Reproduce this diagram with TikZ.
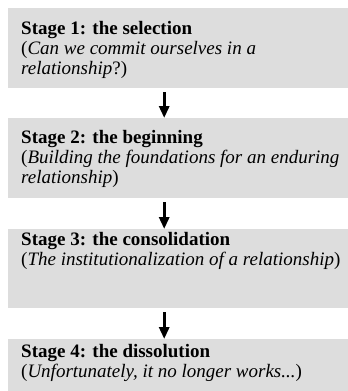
\documentclass[tikz,border=0pt]{standalone}
\usepackage{fontspec}
\setmainfont{Liberation Serif}
\usetikzlibrary{arrows.meta}
\definecolor{boxgray}{RGB}{221,221,221}
\tikzset{
  stagebox/.style={fill=boxgray, draw=none, inner sep=0pt, minimum width=340pt, anchor=north west},
  stagetext/.style={anchor=base west, align=left, inner sep=0pt, font=\fontsize{19}{20}\selectfont},
  flowarrow/.style={line width=3pt, -{Triangle[width=10pt,length=12pt]}, shorten <=4pt}
}
\begin{document}
\begin{tikzpicture}[x=1pt,y=-1pt]
\useasboundingbox (0,0) rectangle (348,391);
\node[stagebox, minimum height=80pt] (b1) at (8,8) {};
\node[stagebox, minimum height=80pt] (b2) at (8,118) {};
\node[stagebox, minimum height=79pt] (b3) at (8,229) {};
\node[stagebox, minimum height=60pt] (b4) at (8,339) {};
% anchor base = baseline of the last line
\node[stagetext] (t1) at (21,74) {\textbf{Stage 1: the selection}\\(\textit{Can we commit ourselves in a}\\\textit{relationship}?)};
\node[stagetext] (t2) at (21,183) {\textbf{Stage 2: the beginning}\\(\textit{Building the foundations for an enduring}\\\textit{relationship})};
\node[stagetext] (t3) at (21,265) {\textbf{Stage 3: the consolidation}\\(\textit{The institutionalization of a relationship})};
\node[stagetext] (t4) at (21,377) {\textbf{Stage 4: the dissolution}\\(\textit{Unfortunately, it no longer works...})};
\draw[flowarrow] ([xshift=-14pt]b1.south) -- ([xshift=-14pt]b2.north);
\draw[flowarrow] ([xshift=-14pt]b2.south) -- ([xshift=-14pt]b3.north);
\draw[flowarrow] ([xshift=-14pt]b3.south) -- ([xshift=-14pt]b4.north);
\end{tikzpicture}
\end{document}
